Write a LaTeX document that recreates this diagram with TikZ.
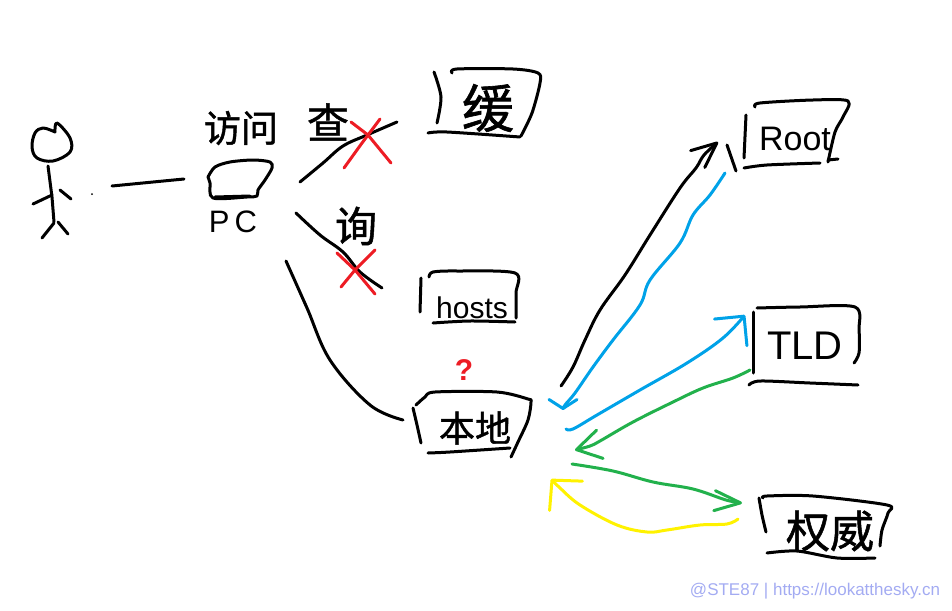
\documentclass[tikz,border=0pt]{standalone}
\usepackage{fontspec}
\usepackage{xcolor}
\usetikzlibrary{arrows.meta}
\setmainfont{Liberation Sans}
\newfontfamily\cjk[FakeBold=1.2]{Noto Sans CJK SC}
\definecolor{inkred}{HTML}{ED1C24}
\definecolor{inkblue}{HTML}{00A2E8}
\definecolor{inkgreen}{HTML}{22B14C}
\definecolor{inkyellow}{HTML}{FFF200}
\definecolor{markcol}{HTML}{A3ABF2}
\tikzset{
	ink/.style = {line width=3pt, line cap=round, line join=round},
	txt/.style = {inner sep=0pt, text=black},
	barb/.style 2 args = {-{Straight Barb[length=#1, width=#2, round, quick]}},
}

\begin{document}
\begin{tikzpicture}[x=1pt, y=-1pt]
	\useasboundingbox (0,0) rectangle (952,610);

	% labels
	\node[txt, font=\cjk\fontsize{37}{37}\selectfont] (visit) at (241,128) {访问};
	\node[txt, font=\fontsize{31}{31}\selectfont] (pclabel) at (233,222) {P\,C};
	\node[txt, font=\cjk\fontsize{42}{42}\selectfont] (check) at (328,122) {查};
	\node[txt, font=\cjk\fontsize{42}{42}\selectfont] (query) at (356,226) {询};
	\node[txt, font=\cjk\fontsize{52}{52}\selectfont] (cache) at (488,108) {缓};
	\node[txt, font=\fontsize{30}{30}\selectfont] (hosts) at (472,308) {hosts};
	\node[txt, font=\cjk\fontsize{36}{36}\selectfont] (local) at (475,428) {本地};
	\node[txt, text=inkred, font=\bfseries\fontsize{30}{30}\selectfont] (qmark) at (464,370) {?};
	\node[txt, font=\fontsize{34}{34}\selectfont] (root) at (795,139) {Root};
	\node[txt, font=\fontsize{40}{40}\selectfont] (tld) at (805,346) {TLD};
	\node[txt, font=\cjk\fontsize{44}{44}\selectfont] (auth) at (830,531) {权威};
	\node[txt, text=markcol, font=\fontsize{17}{17}\selectfont] (mark) at (815,591) {@STE87 | https://lookatthesky.cn};

	% person
	\draw[ink] plot[smooth, tension=.6] coordinates {(55,132) (43,128) (35,133) (32,147) (37,158) (53,161) (70,152) (70,138) (57,123) (55,132)};
	\draw[ink] (48,166) -- (52,197) -- (54,222);
	\draw[ink] (33,204) -- (52,195);
	\draw[ink] (60,190) -- (71,199);
	\draw[ink] (54,223) -- (42,238);
	\draw[ink] (58,222) -- (68,234);
	\fill (92,194) circle (1pt);

	% boxes
	\draw[ink] plot[smooth, tension=.5] coordinates {(208,177) (215,167) (230,162) (253,160) (270,162) (272,168) (265,180) (258,190) (257,196) (247,197) (213,198) (210,183) (208,177)};
	\draw[ink] (215,197) -- (250,196);

	\draw[ink] plot[smooth, tension=.5] coordinates {(434,72) (441,97) (437,123)};
	\draw[ink] plot[smooth, tension=.5] coordinates {(452,73) (457,69) (513,69) (538,73) (540,83) (532,113) (521,136)};
	\draw[ink] plot[smooth, tension=.5] coordinates {(428,133) (447,132) (520,137)};

	\draw[ink] (421,278) -- (420,312);
	\draw[ink] plot[smooth, tension=.5] coordinates {(429,277) (433,272) (457,271) (515,273) (516,293) (516,318)};
	\draw[ink] plot[smooth, tension=.5] coordinates {(433,323) (470,321) (515,322)};

	\draw[ink] plot[smooth, tension=.5] coordinates {(413,408) (417,425) (421,443)};
	\draw[ink] plot[smooth, tension=.5] coordinates {(416,405) (425,397) (435,392) (497,392) (528,399) (531,402) (528,420) (518,442) (511,457)};
	\draw[ink] plot[smooth, tension=.5] coordinates {(428,453) (450,452) (510,448)};

	\draw[ink] (746,115) -- (744,158);
	\draw[ink] (727,145) -- (736,171);
	\draw[ink] plot[smooth, tension=.5] coordinates {(755,107) (760,103) (813,100) (848,101) (843,117) (835,132) (828,162)};
	\draw[ink] plot[smooth, tension=.5] coordinates {(744,168) (767,165) (820,163)};
	\draw[ink] (828,160) -- (838,159);

	\draw[ink] (753,312) -- (753,373);
	\draw[ink] plot[smooth, tension=.5] coordinates {(757,308) (800,307) (855,307) (859,330) (859,353) (854,363)};
	\draw[ink] plot[smooth, tension=.5] coordinates {(749,385) (760,381) (810,383) (858,385)};

	\draw[ink] plot[smooth, tension=.5] coordinates {(759,498) (762,515) (766,532)};
	\draw[ink] plot[smooth, tension=.5] coordinates {(763,498) (767,496) (813,496) (887,505) (888,513) (882,530) (880,546)};
	\draw[ink] plot[smooth, tension=.5] coordinates {(767,553) (797,551) (837,558) (875,558)};

	% free ends of the connectors
	\coordinate (personout) at (112,186);
	\coordinate (pcin) at (184,179);
	\coordinate (pccache) at (300,182);
	\coordinate (cachein) at (397,122);
	\coordinate (pchosts) at (296,213);
	\coordinate (hostsin) at (382,288);
	\coordinate (pclocal) at (286,261);
	\coordinate (localin) at (403,420);
	\coordinate (localroot) at (561,386);
	\coordinate (rootin) at (718,142);
	\coordinate (rootout) at (725,173);
	\coordinate (rootback) at (563,410);
	\coordinate (localtld) at (566,429);
	\coordinate (tldin) at (745,315);
	\coordinate (tldout) at (750,370);
	\coordinate (tldback) at (575,450);
	\coordinate (localauth) at (572,464);
	\coordinate (authin) at (742,503);
	\coordinate (authout) at (738,519);
	\coordinate (authback) at (551,479);

	% connectors
	\draw[ink] (personout) -- (pcin);
	\draw[ink] plot[smooth, tension=.6] coordinates {(pccache) (323,163) (343,146) (367,135) (cachein)};
	\draw[ink] plot[smooth, tension=.6] coordinates {(pchosts) (320,235) (343,252) (360,272) (hostsin)};
	\draw[ink] plot[smooth, tension=.6] coordinates {(pclocal) (307,308) (330,360) (370,405) (localin)};

	\draw[ink, barb={25pt}{22pt}] plot[smooth, tension=.6] coordinates {(localroot) (573,367) (585,340) (600,310) (625,275) (650,235) (680,188) (696,168) (704,155) (rootin)};
	\draw[ink, inkblue, barb={9pt}{28pt}] plot[smooth, tension=.6] coordinates {(rootout) (710,195) (693,215) (680,243) (650,280) (640,305) (613,340) (593,367) (575,393) (565,405) (rootback)};
	\draw[ink, inkblue, barb={21pt}{42pt}] plot[smooth, tension=.6] coordinates {(localtld) (573,429) (597,415) (640,390) (687,363) (723,338) (tldin)};
	\draw[ink, inkgreen, barb={24pt}{29pt}] plot[smooth, tension=.6] coordinates {(tldout) (733,378) (703,388) (673,402) (633,422) (600,441) (590,446) (tldback)};
	\draw[ink, inkgreen, barb={26pt}{20pt}] plot[smooth, tension=.6] coordinates {(localauth) (613,471) (653,482) (693,489) (726,500) (authin)};
	\draw[ink, inkyellow, barb={21pt}{44pt}] plot[smooth, tension=.6] coordinates {(authout) (727,524) (700,525) (667,530) (647,532) (617,525) (580,505) (560,488) (authback)};

	% crosses
	\draw[ink, inkred] (351,122) -- (368,135) -- (391,163);
	\draw[ink, inkred] (380,119) -- (362,143) -- (344,168);
	\draw[ink, inkred] (337,253) -- (355,270) -- (375,294);
	\draw[ink, inkred] (375,250) -- (355,270) -- (341,287);
\end{tikzpicture}
\end{document}
